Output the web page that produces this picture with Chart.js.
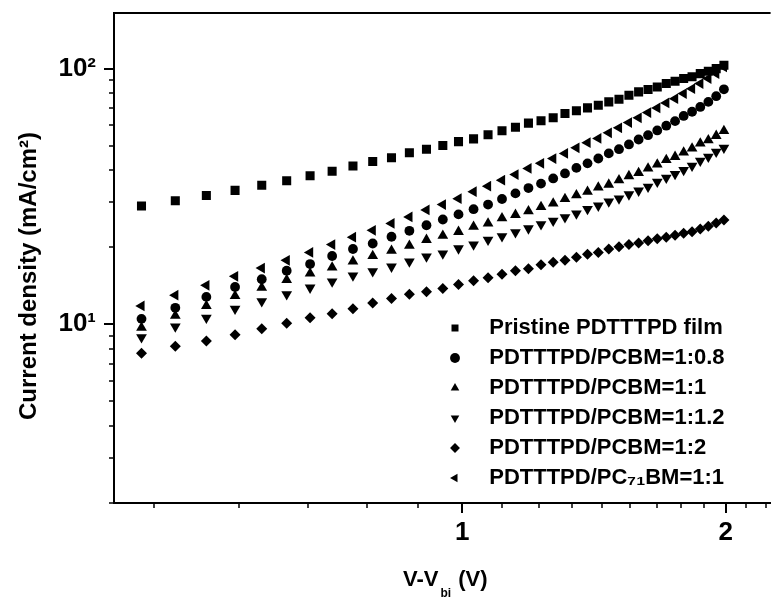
<!DOCTYPE html>
<html>
<head>
<meta charset="utf-8">
<script src="https://cdn.jsdelivr.net/npm/chart.js@4.4.1/dist/chart.umd.min.js"></script>
<style>
  html, body { margin: 0; padding: 0; background: #fff; }
  #wrap { width: 777px; height: 599px; position: relative; }
</style>
</head>
<body>
<div id="wrap"><canvas id="myChart"></canvas></div>
<script>
// V - Vbi (V)
var voltage = [0.43,0.47,0.51,0.55,0.59,0.63,0.67,0.71,0.75,0.79,0.83,0.87,0.91,0.95,0.99,1.03,1.07,1.11,1.15,1.19,
               1.23,1.27,1.31,1.35,1.39,1.43,1.47,1.51,1.55,1.59,1.63,1.67,1.71,1.75,1.79,1.83,1.87,1.91,1.95,1.99];

// current density (mA/cm2)
var pristine = [29.0,30.4,31.9,33.4,35.0,36.4,38.1,39.7,41.6,43.3,44.8,46.9,48.4,50.0,51.8,53.1,55.1,57.1,59.0,61.2,
                62.5,64.2,66.7,68.4,70.2,71.9,74.1,75.9,78.7,81.1,82.8,84.8,87.4,89.3,91.4,93.0,95.6,97.7,100,103];
var pcbm08 = [10.5,11.6,12.8,14.0,15.0,16.2,17.2,18.5,19.7,20.7,22.0,23.2,24.4,25.7,26.9,28.2,29.4,30.9,32.5,34.1,
              35.5,37.2,38.9,40.9,42.6,44.5,46.6,48.4,50.5,52.8,54.9,57.3,59.8,62.3,65.3,67.8,70.8,74.1,78.0,83.0];
var pcbm1 = [9.7,10.8,11.8,12.9,13.9,14.9,15.8,16.7,17.6,18.5,19.4,20.3,21.4,22.2,23.0,24.1,24.8,26.0,26.8,27.7,
             28.8,29.7,30.9,32.0,33.0,34.3,35.2,36.6,38.0,39.1,40.7,42.2,43.9,45.2,47.0,48.7,51.0,52.5,54.6,57.0];
var pcbm12 = [8.9,9.8,10.6,11.5,12.3,13.1,13.9,14.7,15.5,16.1,16.8,17.6,18.4,18.9,19.8,20.5,21.4,22.1,22.9,23.7,
              24.6,25.4,26.2,27.1,28.2,29.1,30.2,31.0,32.2,33.3,34.5,36.1,37.4,38.7,40.1,41.7,43.6,45.2,47.3,49.0];
var pcbm2 = [7.7,8.2,8.6,9.1,9.6,10.1,10.6,11.0,11.5,12.1,12.6,13.1,13.4,13.8,14.3,14.8,15.2,15.7,16.2,16.5,
             17.1,17.5,17.8,18.3,18.8,19.1,19.7,20.1,20.5,20.8,21.2,21.6,21.9,22.3,22.7,23.0,23.6,24.2,24.9,25.6];
var pc71bm = [11.8,13.0,14.2,15.4,16.6,17.8,19.1,20.5,21.9,23.3,24.8,26.3,28.0,29.4,31.0,33.0,34.7,36.6,38.5,40.7,
              42.6,44.5,46.6,49.0,51.3,53.3,56.1,58.7,61.5,64.2,67.3,70.2,73.4,76.3,79.9,83.5,87.4,91.4,95.6,101.5];

var seriesNames = ['Pristine PDTTTPD film','PDTTTPD/PCBM=1:0.8','PDTTTPD/PCBM=1:1',
                   'PDTTTPD/PCBM=1:1.2','PDTTTPD/PCBM=1:2','PDTTTPD/PC\u2087\u2081BM=1:1'];

// axis ticks
var xTicks = [4/9,5/9,6/9,7/9,8/9,1,10/9,11/9,12/9,13/9,14/9,15/9,16/9,17/9,2,19/9,20/9];
var xTickLabels = {1: '1', 2: '2'};
var yTicks = [2,3,4,5,6,7,8,9,10,20,30,40,50,60,70,80,90,100];
var yTickLabels = {10: '10\u00b9', 100: '10\u00b2'};

var fam = "'Liberation Sans', Arial, sans-serif";
Chart.defaults.font.family = fam;
Chart.defaults.color = '#000';

function pts(ys){
    var out = [];
    for(var i=0;i<voltage.length;i++) out.push({x: voltage[i], y: ys[i]});
    return out;
}

function ds(label, ys, style, rot, r){
    return {
        label: '  ' + label,
        data: pts(ys),
        pointStyle: style,
        rotation: rot,
        pointRadius: r,
        pointHoverRadius: r,
        backgroundColor: '#000',
        borderColor: '#000',
        borderWidth: 0,
        showLine: false
    };
}

var frame = {
    id: 'frame',
    afterLayout: function(chart){
        var lg = chart.legend;
        lg.left = 436; lg.top = 309; lg.right = 777; lg.bottom = 599;
    },
    afterDraw: function(chart){
        var ctx = chart.ctx, a = chart.chartArea;
        var xs = chart.scales.x, ys = chart.scales.y;
        ctx.save();
        ctx.strokeStyle = '#000';
        ctx.lineWidth = 2;
        ctx.beginPath();
        ctx.moveTo(a.left - 1, a.top); ctx.lineTo(a.right, a.top);
        ctx.stroke();
        // tick marks, outside
        xs.ticks.forEach(function(t){
            var px = Math.round(xs.getPixelForValue(t.value));
            var major = !!xTickLabels[t.value];
            ctx.lineWidth = major ? 2 : 1.5;
            ctx.beginPath();
            ctx.moveTo(px, a.bottom); ctx.lineTo(px, a.bottom + (major ? 10 : 5));
            ctx.stroke();
        });
        ys.ticks.forEach(function(t){
            var py = Math.round(ys.getPixelForValue(t.value));
            var major = !!yTickLabels[t.value];
            ctx.lineWidth = major ? 2 : 1.5;
            ctx.beginPath();
            ctx.moveTo(a.left, py); ctx.lineTo(a.left - (major ? 10 : 5), py);
            ctx.stroke();
        });
        // axis titles
        ctx.fillStyle = '#000';
        ctx.textBaseline = 'alphabetic';
        ctx.font = 'bold 22px ' + fam;
        var w1 = ctx.measureText('V-V').width;
        var w3 = ctx.measureText(' (V)').width;
        ctx.font = 'bold 12px ' + fam;
        var w2 = ctx.measureText('bi').width;
        var total = w1 + 2 + w2 + 1 + w3;
        var x0 = (a.left + a.right) / 2 + 3 - total / 2;
        var base = a.bottom + 83;
        ctx.textAlign = 'left';
        ctx.font = 'bold 22px ' + fam;
        ctx.fillText('V-V', x0, base);
        ctx.font = 'bold 12px ' + fam;
        ctx.fillText('bi', x0 + w1 + 2, base + 11);
        ctx.font = 'bold 22px ' + fam;
        ctx.fillText(' (V)', x0 + w1 + 2 + w2 + 1, base);

        ctx.translate(35.5, (a.top + a.bottom) / 2 + 18);
        ctx.rotate(-Math.PI / 2);
        ctx.textAlign = 'center';
        ctx.font = 'bold 24px ' + fam;
        ctx.fillText('Current density (mA/cm\u00b2)', 0, 0);
        ctx.restore();
    }
};

var ctx = document.getElementById('myChart').getContext('2d');
var myChart = new Chart(ctx, {
    type: 'scatter',
    data: {
        datasets: [
            ds(seriesNames[0], pristine, 'rect', 0, 6.4),
            ds(seriesNames[1], pcbm08, 'circle', 0, 4.9),
            ds(seriesNames[2], pcbm1, 'triangle', 0, 6.2),
            ds(seriesNames[3], pcbm12, 'triangle', 180, 6.2),
            ds(seriesNames[4], pcbm2, 'rectRot', 0, 5.5),
            ds(seriesNames[5], pc71bm, 'triangle', 270, 6.2)
        ]
    },
    options: {
        responsive: true,
        maintainAspectRatio: false,
        animation: false,
        layout: { padding: { top: 13, right: 0, left: 0, bottom: 0 } },
        plugins: {
            tooltip: { enabled: false },
            legend: {
                position: 'chartArea',
                align: 'start',
                labels: {
                    usePointStyle: true,
                    boxWidth: 22,
                    boxHeight: 7,
                    padding: 8,
                    color: '#000',
                    font: { size: 22, weight: 'bold' }
                }
            }
        },
        scales: {
            x: {
                type: 'logarithmic',
                min: 0.4,
                max: 2.25,
                grid: { display: false, drawTicks: false },
                border: { display: true, color: '#000', width: 2 },
                afterBuildTicks: function(scale){
                    scale.ticks = xTicks.map(function(v){ return {value: v}; });
                },
                afterFit: function(scale){
                    scale.height = 96;
                    scale.paddingLeft = 0; scale.paddingRight = 0;
                },
                ticks: {
                    autoSkip: false,
                    maxRotation: 0,
                    padding: 14,
                    color: '#000',
                    font: { size: 26, weight: 'bold' },
                    callback: function(v){ return xTickLabels[v] || ''; }
                }
            },
            y: {
                type: 'logarithmic',
                min: 2,
                max: 165,
                grid: { display: false, drawTicks: false },
                border: { display: true, color: '#000', width: 2 },
                afterBuildTicks: function(scale){
                    scale.ticks = yTicks.map(function(v){ return {value: v}; });
                },
                afterFit: function(scale){
                    scale.width = 114;
                    scale.paddingTop = 0; scale.paddingBottom = 0;
                },
                ticks: {
                    autoSkip: false,
                    padding: 18,
                    color: '#000',
                    font: { size: 26, weight: 'bold' },
                    callback: function(v){ return yTickLabels[v] || ''; }
                }
            }
        }
    },
    plugins: [frame]
});
</script>
</body>
</html>
